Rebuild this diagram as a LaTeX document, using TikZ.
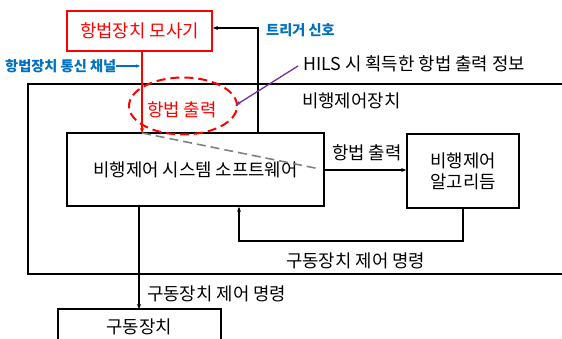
\documentclass[tikz,border=0pt]{standalone}
\usepackage{fontspec}
\setmainfont{Noto Sans CJK KR}
\usetikzlibrary{arrows.meta,shapes.geometric}
\definecolor{lblue}{HTML}{0070C0}
\definecolor{lpurple}{HTML}{7030A0}
\definecolor{lred}{HTML}{FF0000}
\begin{document}
\begin{tikzpicture}[x=1pt,y=-1pt,
  box/.style={draw=black, line width=1.7pt, minimum width=#1, inner sep=0pt},
  txt/.style={font=\fontsize{17.8}{21}\selectfont, inner sep=0pt},
  btxt/.style={font=\fontsize{14.2}{16}\selectfont\bfseries, text=lblue, inner sep=0pt},
  arr/.style={-{Stealth[length=5pt,width=4pt]}, line width=1.3pt},
]
\useasboundingbox (0,0) rectangle (562,339);
\begin{scope}
\clip (0,0) rectangle (562,339);
% outer box
\draw[line width=1.7pt] (28,84) rectangle (600,274);
% actuator box
\draw[line width=1.7pt] (58,309) rectangle (221,360);
\end{scope}
\node[txt, anchor=west] (outerlbl) at (302,101) {비행제어장치};
\node[txt] (act) at (139,327) {구동장치};
\coordinate (acttop) at (139,309);

% simulator box
\node[draw=lred, line width=1.8pt, minimum width=145pt, minimum height=40pt, inner sep=0pt,
  font=\fontsize{17.8}{20}\selectfont, text=lred] (sim) at (139.5,31) {항법장치 모사기};

% software box
\node[box=257pt, minimum height=73pt, txt] (sw) at (195.5,169.5) {비행제어 시스템 소프트웨어};
% algorithm box
\node[box=112pt, minimum height=74pt, txt, align=center] (alg) at (463,171) {비행제어\\알고리듬};

% red ellipse
\node[draw=lred, dash pattern=on 9pt off 5pt, line width=2pt, ellipse, minimum width=108pt, minimum height=57pt, inner sep=0pt] (ell) at (183,106) {};
\node[txt, text=lred] (navout) at (182,110) {항법 출력};

% gray dashed
\draw[gray, line width=1.6pt, dash pattern=on 9pt off 5pt] (142,133) -- (320,169);

% red line sim -> sw
\coordinate (swtopL) at (142,133);
\draw[lred, line width=1.6pt, -{Stealth[length=5pt,width=4pt]}] (sim.south -| swtopL) -- (swtopL);

% trigger
\coordinate (trg) at (258,28);
\coordinate (trgb) at (258,133);
\draw[arr] (trgb) -- (trg) -- (sim.east |- trg);
\node[btxt, anchor=west] (trglbl) at (266,30) {트리거 신호};

% channel label
\node[btxt, anchor=west] (chlbl) at (5,66) {항법장치 통신 채널};
\coordinate (chend) at (140,66);
\draw[lblue, line width=1.3pt, -{Stealth[length=4pt,width=3.5pt]}] (chlbl.east) -- (chend);

% HILS label
\node[txt, anchor=west] (hils) at (303,64) {HILS 시 획득한 항법 출력 정보};
\coordinate (hilsst) at (298,66);
\draw[lpurple, line width=1.3pt, -{Stealth[length=5pt,width=4pt]}] (hilsst) -- (236,105);

% nav output arrow
\draw[arr] (sw.east |- 0,170) -- (alg.west |- 0,170);
\node[txt, anchor=west] (navlbl) at (332,153) {항법 출력};

% feedback
\coordinate (fb1) at (463,241);
\coordinate (fb2) at (239,241);
\draw[arr] (alg.south -| fb1) -- (fb1) -- (fb2) -- (sw.south -| fb2);
\node[txt, anchor=west] (fblbl) at (286,261) {구동장치 제어 명령};

% to actuator
\draw[arr] (sw.south -| acttop) -- (acttop);
\node[txt, anchor=west] (actlbl) at (147,294) {구동장치 제어 명령};
\end{tikzpicture}
\end{document}
